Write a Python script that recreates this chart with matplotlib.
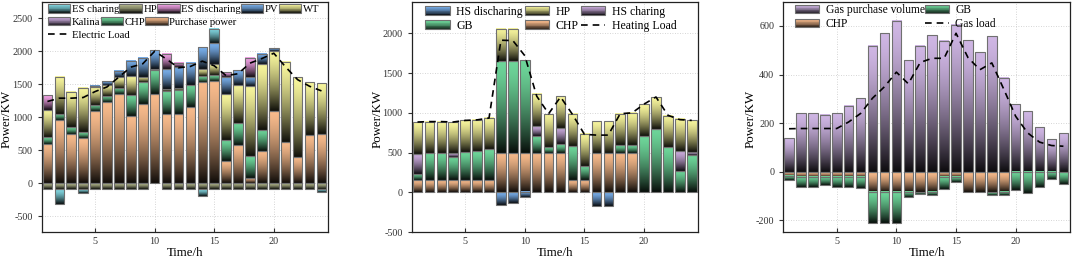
import numpy as np
import matplotlib
matplotlib.use("Agg")
import matplotlib.pyplot as plt
import matplotlib.colors as mcolors
from matplotlib.patches import Rectangle, Patch
from matplotlib.lines import Line2D
from matplotlib.legend import Legend
from matplotlib.legend_handler import HandlerBase

plt.rcParams['font.family'] = ['Liberation Serif', 'DejaVu Serif']
plt.rcParams['axes.unicode_minus'] = False

hours = np.arange(1, 25)

# ---- electric balance ----
purchase = [600, 960, 750, 690, 1090, 1225, 1348, 1015, 1200, 1348, 1050, 1050,
            1156, 1535, 1555, 333, 586, 80, 485, 1090, 621, 400, 732, 752]
chp_e = [100, 95, 100, 90, 95, 95, 95, 330, 330, 365, 345, 370,
         335, 85, 80, 330, 330, 330, 330, 0, 0, 0, 0, 0]
kalina = [0] * 24
wt = [415, 560, 530, 670, 270, 175, 160, 280, 80, 25, 35, 20,
      0, 115, 170, 690, 580, 1060, 985, 910, 1212, 1210, 800, 770]
pv = [0, 0, 0, 0, 20, 55, 100, 230, 290, 280, 300, 320,
      333, 330, 315, 258, 217, 140, 160, 45, 0, 0, 0, 0]
es_dis = [220, 0, 0, 0, 0, 0, 0, 0, 0, 0, 230, 65,
          0, 0, 0, 75, 0, 290, 0, 0, 0, 0, 0, 0]
hp_e = [-88] * 9 + [0] + [-88] * 14
es_ch = [0, -220, 0, -60, 0, 0, 0, 0, 0, 0, 0, 0,
         0, -105, 212, 0, 0, 0, 0, 0, 0, 0, 0, -45]
elec_load = [1240, 1290, 1290, 1300, 1390, 1460, 1610, 1760, 1810, 2000, 1880, 1750,
             1770, 1850, 1780, 1630, 1660, 1820, 1890, 1970, 1760, 1570, 1470, 1400]

# ---- heat balance ----
chp_h = [150] * 7 + [500] * 6 + [150, 150] + [500] * 4 + [0] * 5
gb_h = [85, 340, 340, 295, 355, 365, 390, 1155, 1155, 1160, 210, 75,
        105, 430, 185, 0, 0, 90, 95, 715, 800, 565, 265, 475]
hs_ch = [250, 0, 0, 45, 0, 0, 0, 0, 0, 0, 120, 0,
         205, 0, 0, 0, 0, 0, 0, 0, 0, 0, 250, 30]
hp_h = [395, 400, 400, 390, 400, 397, 395, 405, 405, 0, 405, 410,
        400, 405, 405, 400, 400, 400, 405, 400, 400, 400, 405, 400]
hs_dis = [0] * 7 + [-155, -135, -65] + [0] * 5 + [-175, -170] + [0] * 7
heat_load = [885, 890, 890, 885, 905, 912, 935, 1915, 1910, 1720, 1210, 990,
             1200, 980, 730, 720, 720, 990, 1000, 1110, 1200, 970, 915, 905]

# ---- gas balance ----
gas_buy = [137, 241, 241, 235, 242, 272, 303, 519, 571, 622, 458, 519,
           562, 540, 606, 541, 492, 558, 387, 277, 249, 184, 135, 159]
chp_g = [-16, -20, -20, -20, -20, -20, -20, -82, -82, -82, -82, -82,
         -82, -20, -20, -82, -82, -82, -82, 0, 0, 0, 0, 0]
gb_g = [-17, -42, -42, -35, -42, -43, -46, -130, -130, -130, -22, -8,
        -14, -52, -22, 0, 0, -12, -14, -77, -89, -62, -29, -49]
gas_load = [177, 178, 178, 178, 178, 205, 240, 303, 350, 410, 362, 450,
            467, 467, 570, 470, 420, 448, 340, 228, 160, 122, 108, 105]

C_CYAN = '#82d8e2'
C_OLIVE = '#b4b88c'
C_PINK = '#f2a2e6'
C_BLUE = '#78aeea'
C_YEL = '#f6f49c'
C_PURP = '#c9aadb'
C_GREEN = '#6ed69a'
C_ORANGE = '#f8bb8c'
C_LAV = '#cfb6e4'

W = 0.8


def shade(c, t):
    return np.asarray(c) * (1 - 0.93 * t ** 1.5)


def grad_bar(ax, x, y0, y1, color):
    lo, hi = min(y0, y1), max(y0, y1)
    if hi - lo <= 0:
        return
    c = np.array(mcolors.to_rgb(color))
    t = np.linspace(0, 1, 64)[:, None]
    img = shade(c[None, :], t)[:, None, :]
    ax.imshow(img, extent=[x - W / 2, x + W / 2, lo, hi], origin='upper',
              aspect='auto', interpolation='bilinear', zorder=2)
    ax.add_patch(Rectangle((x - W / 2, lo), W, hi - lo, fill=False,
                           ec='#707070', lw=0.8, zorder=3))


def stacked(ax, series):
    pos = np.zeros(24)
    neg = np.zeros(24)
    for vals, col in series:
        for i, v in enumerate(vals):
            if v > 0:
                grad_bar(ax, hours[i], pos[i], pos[i] + v, col)
                pos[i] += v
            elif v < 0:
                grad_bar(ax, hours[i], neg[i], neg[i] + v, col)
                neg[i] += v


class GradHandler(HandlerBase):
    def create_artists(self, legend, orig_handle, xdescent, ydescent,
                       width, height, fontsize, trans):
        c = np.array(mcolors.to_rgb(orig_handle.get_facecolor()))
        arts = []
        n = 12
        for i in range(n):
            col = shade(c, (i + 0.5) / n)
            arts.append(Rectangle((-xdescent, -ydescent + height * (1 - (i + 1) / n)),
                                  width, height / n + 0.01, fc=col, ec='none',
                                  transform=trans))
        arts.append(Rectangle((-xdescent, -ydescent), width, height, fill=False,
                              ec='#707070', lw=0.8, transform=trans))
        return arts


HMAP = {Patch: GradHandler()}
DASH = (0, (4, 3))


def load_line(ax, vals):
    ax.plot(hours, vals, color='black', lw=1.2, ls=DASH, zorder=5)


def style(ax, ylim, yticks, ylab_x):
    ax.set_xlim(0.52, 24.55)
    ax.set_ylim(*ylim)
    ax.set_xticks([5, 10, 15, 20])
    ax.set_yticks(yticks)
    ax.grid(True, ls=(0, (1, 2)), color='#c8c8c8', lw=0.6, zorder=0)
    ax.set_axisbelow(True)
    ax.tick_params(axis='x', direction='in', length=3, labelsize=7.3, colors='#333333')
    ax.tick_params(axis='y', direction='out', length=3, labelsize=7.3, colors='#333333')
    for s in ax.spines.values():
        s.set_linewidth(0.9)
        s.set_color('#222222')
    ax.set_xlabel('Time/h', fontsize=9.3, labelpad=1)
    ax.set_ylabel('Power/KW', fontsize=9.3)
    ax.yaxis.set_label_coords(ylab_x, 0.49)


def leg(ax, handles, labels, ncol, anchor, fs, htp, cs=0.0):
    lg = Legend(ax, handles, labels, ncol=ncol, loc='upper left',
                bbox_to_anchor=anchor, borderaxespad=0, borderpad=0,
                frameon=False, fontsize=fs, handlelength=2.1, handleheight=0.8,
                handletextpad=htp, columnspacing=cs, labelspacing=0.18,
                handler_map=HMAP)
    ax.add_artist(lg)


fig = plt.figure(figsize=(10.72, 2.64), dpi=100)
ax1 = fig.add_axes([0.0389, 0.1212, 0.2671, 0.8724])
ax2 = fig.add_axes([0.3841, 0.1212, 0.2673, 0.8724])
ax3 = fig.add_axes([0.7307, 0.1212, 0.2674, 0.8724])

# panel 1
stacked(ax1, [(purchase, C_ORANGE), (chp_e, C_GREEN), (kalina, C_PURP),
              (wt, C_YEL), (pv, C_BLUE), (es_dis, C_PINK),
              (hp_e, C_OLIVE), (es_ch, C_CYAN)])
load_line(ax1, elec_load)
style(ax1, (-735, 2750), [-500, 0, 500, 1000, 1500, 2000, 2500], -0.102)
fs1 = 7.7
leg(ax1, [Patch(fc=C_CYAN), Patch(fc=C_OLIVE), Patch(fc=C_PINK), Patch(fc=C_BLUE), Patch(fc=C_YEL)],
    ['ES charing', 'HP', 'ES discharing', 'PV', 'WT'], 5, (0.022, 0.988), fs1, 0.15)
leg(ax1, [Patch(fc=C_PURP), Patch(fc=C_GREEN), Patch(fc=C_ORANGE)],
    ['Kalina', 'CHP', 'Purchase power'], 3, (0.022, 0.933), fs1, 0.15)
leg(ax1, [Line2D([], [], color='black', lw=1.2, ls=DASH)],
    ['Electric Load'], 1, (0.022, 0.878), fs1, 0.15)

# panel 2
stacked(ax2, [(chp_h, C_ORANGE), (gb_h, C_GREEN), (hs_ch, C_PURP),
              (hp_h, C_YEL), (hs_dis, C_BLUE)])
load_line(ax2, heat_load)
style(ax2, (-500, 2400), [-500, 0, 500, 1000, 1500, 2000], -0.099)
leg(ax2, [Patch(fc=C_BLUE), Patch(fc=C_GREEN), Patch(fc=C_YEL), Patch(fc=C_ORANGE),
          Patch(fc=C_PURP), Line2D([], [], color='black', lw=1.2, ls=DASH)],
    ['HS discharing', 'GB', 'HP', 'CHP', 'HS charing', 'Heating Load'],
    3, (0.046, 0.982), 8.5, 0.55, 0.15)

# panel 3
stacked(ax3, [(gas_buy, C_LAV), (chp_g, C_ORANGE), (gb_g, C_GREEN)])
load_line(ax3, gas_load)
style(ax3, (-248, 700), [-200, 0, 200, 400, 600], -0.092)
leg(ax3, [Patch(fc=C_LAV), Patch(fc=C_ORANGE), Patch(fc=C_GREEN),
          Line2D([], [], color='black', lw=1.2, ls=DASH)],
    ['Gas purchase volume', 'CHP', 'GB', 'Gas load'],
    2, (0.041, 0.99), 8.3, 0.55, 0.0)

fig.savefig('out.png', dpi=100)
